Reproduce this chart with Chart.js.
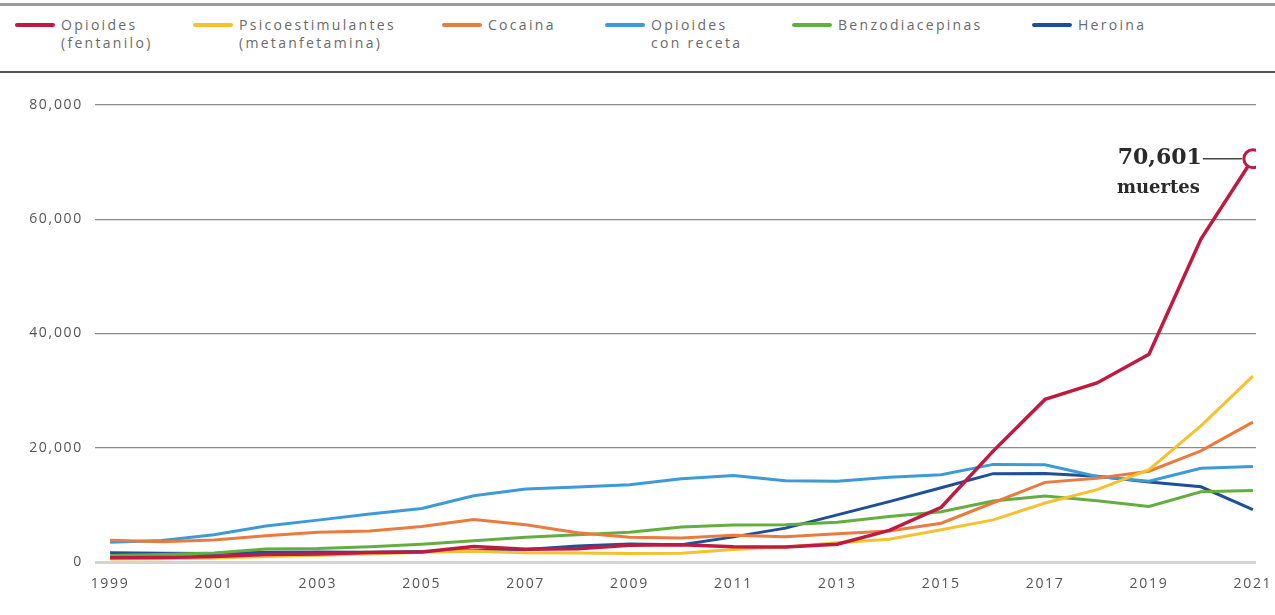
<!DOCTYPE html>
<html>
<head>
<meta charset="utf-8">
<script src="https://cdn.jsdelivr.net/npm/chart.js@4/dist/chart.umd.min.js"></script>
<style>
  body { margin: 0; background: #fff; }
  #wrap { position: relative; width: 1275px; height: 615px; overflow: hidden; }
  #chart { position: absolute; left: 0; top: 0; }
  .rule { position: absolute; left: 0; width: 1275px; }
  #legend .item { position: absolute; top: 16px; }
  #legend .sw { position: absolute; top: 7px; height: 4px; border-radius: 2px; }
  #legend .txt { position: absolute; top: 0; white-space: nowrap; font-family: "Open Sans", sans-serif;
    font-size: 14px; line-height: 18px; letter-spacing: 2.3px; color: #6a6a6a; }
</style>
</head>
<body>
<div id="wrap">
  <div class="rule" style="top:3px;height:3px;background:#9a9a9a"></div>
  <div class="rule" style="top:71px;height:2px;background:#555"></div>
  <div id="legend"></div>
  <canvas id="chart" width="1275" height="615"></canvas>
</div>
<script>
var years = [1999, 2000, 2001, 2002, 2003, 2004, 2005, 2006, 2007, 2008, 2009, 2010,
  2011, 2012, 2013, 2014, 2015, 2016, 2017, 2018, 2019, 2020, 2021];
var tickYears = [1999, 2001, 2003, 2005, 2007, 2009, 2011, 2013, 2015, 2017, 2019, 2021];
var yTicks = [0, 20000, 40000, 60000, 80000];

var fentanilo = [730, 782, 957, 1295, 1400, 1664, 1742, 2707, 2213, 2306, 2946, 3007,
  2666, 2628, 3105, 5544, 9580, 19413, 28466, 31335, 36359, 56516, 70601];
var metanfetamina = [547, 578, 705, 942, 1184, 1383, 1708, 1865, 1610, 1579, 1488, 1518,
  2185, 2648, 3376, 3981, 5630, 7372, 10333, 12676, 16167, 23837, 32537];
var cocaina = [3822, 3544, 3833, 4599, 5199, 5443, 6208, 7448, 6512, 5129, 4350, 4183,
  4681, 4404, 4944, 5415, 6784, 10375, 13942, 14666, 15883, 19447, 24486];
var conReceta = [3442, 3785, 4770, 6301, 7329, 8397, 9382, 11589, 12796, 13149, 13523, 14583,
  15140, 14240, 14145, 14838, 15281, 17087, 17029, 14975, 14139, 16416, 16706];
var benzodiacepinas = [1135, 1298, 1594, 2279, 2358, 2654, 3105, 3709, 4353, 4765, 5210, 6131,
  6498, 6507, 6973, 7945, 8791, 10684, 11537, 10724, 9711, 12290, 12499];
var heroina = [1600, 1550, 1500, 1700, 1750, 1700, 1850, 1950, 2200, 2800, 3150, 3036,
  4397, 5925, 8257, 10574, 12989, 15469, 15482, 14996, 14019, 13165, 9173];

var labels = [['Opioides', '(fentanilo)'], ['Psicoestimulantes', '(metanfetamina)'], ['Cocaina'],
  ['Opioides', 'con receta'], ['Benzodiacepinas'], ['Heroina']];
var series = [fentanilo, metanfetamina, cocaina, conReceta, benzodiacepinas, heroina];
var colors = ['#be1a42', '#f5c12e', '#ea7b3e', '#3c9bd7', '#64ae41', '#1f4f98'];
var legendX = [15, 193, 442, 605, 792, 1032];

// legend (html)
var leg = document.getElementById('legend');
labels.forEach(function (l, i) {
  var it = document.createElement('div');
  it.className = 'item';
  it.style.left = legendX[i] + 'px';
  it.innerHTML = '<div class="sw" style="left:0;width:40px;background:' + colors[i] + '"></div>' +
    '<div class="txt" style="left:46px">' + l.join('<br>') + '</div>';
  leg.appendChild(it);
});

var datasets = series.map(function (s, i) {
  var last = s.length - 1;
  return {
    label: labels[i].join(' '),
    data: s.map(function (v, j) { return { x: years[j], y: v }; }),
    borderColor: colors[i],
    borderWidth: i === 0 ? 3.5 : 3,
    tension: 0,
    backgroundColor: '#fff',
    pointRadius: s.map(function (v, j) { return (i === 0 && j === last) ? 9 : 0; }),
    pointBorderWidth: 3,
    pointBorderColor: colors[i],
    pointBackgroundColor: '#fff',
    pointHoverRadius: 0,
  };
});

// spaced tick labels like the print version
var spacing = {
  id: 'spacing',
  beforeDraw: function (chart) { chart.ctx.letterSpacing = '1.7px'; },
  afterDraw: function (chart) { chart.ctx.letterSpacing = '0px'; }
};

var annot = {
  id: 'annot',
  afterDatasetsDraw: function (chart) {
    var meta = chart.getDatasetMeta(0);
    var p = meta.data[meta.data.length - 1];
    var c = chart.ctx;
    c.save();
    c.letterSpacing = '0px';
    c.strokeStyle = '#444';
    c.lineWidth = 1.5;
    c.beginPath();
    c.moveTo(p.x - 50, p.y);
    c.lineTo(p.x - 11, p.y);
    c.stroke();
    c.fillStyle = '#2a2a2a';
    c.textAlign = 'right';
    c.textBaseline = 'middle';
    c.font = 'bold 22px "DejaVu Serif", serif';
    c.fillText(fentanilo[fentanilo.length - 1].toLocaleString('en-US'), p.x - 51, p.y);
    c.font = 'bold 18px "DejaVu Serif", serif';
    c.fillText('muertes', p.x - 53, p.y + 30);
    c.restore();
  }
};

new Chart(document.getElementById('chart'), {
  type: 'line',
  data: { datasets: datasets },
  options: {
    responsive: false,
    animation: false,
    layout: { padding: { top: 105, right: 19, bottom: 0, left: 0 } },
    plugins: { legend: { display: false }, tooltip: { enabled: false } },
    scales: {
      x: {
        type: 'linear',
        min: 1998.71,
        max: 2021.06,
        afterBuildTicks: function (s) { s.ticks = tickYears.map(function (v) { return { value: v }; }); },
        afterFit: function (s) { s.height = 53; s.paddingLeft = 0; s.paddingRight = 0; },
        grid: { display: false, drawTicks: false },
        border: { display: false },
        ticks: {
          padding: 14,
          maxRotation: 0,
          autoSkip: false,
          color: '#555',
          font: { family: 'Open Sans', size: 14 },
          callback: function (v) { return String(v); }
        }
      },
      y: {
        min: 0,
        max: 80000,
        afterBuildTicks: function (s) { s.ticks = yTicks.map(function (v) { return { value: v }; }); },
        afterFit: function (s) { s.width = 95; s.paddingTop = 0; s.paddingBottom = 0; },
        border: { display: false },
        grid: {
          drawTicks: false,
          color: function (ctx) { return ctx.tick && ctx.tick.value === 0 ? '#d4d4d4' : '#8c8c8c'; },
          lineWidth: function (ctx) { return ctx.tick && ctx.tick.value === 0 ? 3 : 1.3; }
        },
        ticks: {
          padding: 12,
          color: '#555',
          font: { family: 'Open Sans', size: 14 },
          callback: function (v) { return v.toLocaleString('en-US'); }
        }
      }
    }
  },
  plugins: [spacing, annot]
});
</script>
</body>
</html>
